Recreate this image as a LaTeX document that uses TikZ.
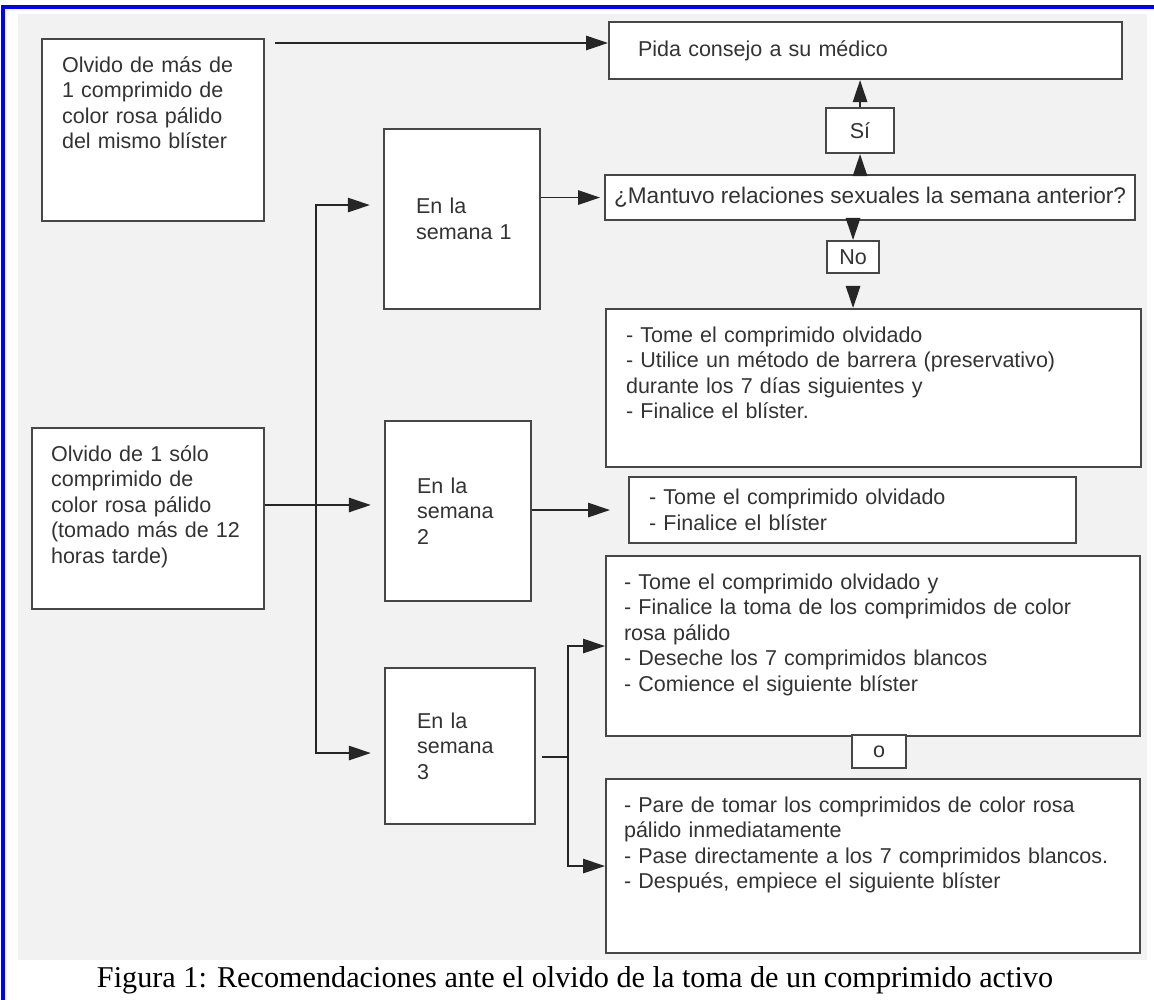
\documentclass[tikz,border=0pt]{standalone}
\usepackage{fontspec}
\setmainfont{Liberation Serif}
\newfontfamily\arialfont{Liberation Sans}
\usepackage{xcolor}
\usetikzlibrary{arrows.meta,calc,positioning}

\definecolor{fondo}{HTML}{F2F2F2}
\definecolor{borde}{HTML}{474747}
\definecolor{texto}{HTML}{333333}
\definecolor{marco}{HTML}{0000FF}

\tikzset{
    caja/.style={draw=borde, line width=1.5pt, fill=white, text=texto, align=left,
        anchor=north west, font=\arialfont\fontsize{15.3}{18.2}\selectfont,
        inner xsep=0.5cm, inner ysep=0cm},
    arriba/.style={text height=0.4cm, inner ysep=0.425cm, text depth=#1},
    chica/.style={caja, align=center, inner xsep=0.1cm},
    flecha/.style={draw=black!85, line width=1.2pt, -{Triangle[length=0.55cm,width=0.36cm]}},
    linea/.style={draw=black!85, line width=1.2pt}
}

\begin{document}
\begin{tikzpicture}
    \useasboundingbox (0,0) rectangle (28.85,25);

    % Frame and background
    \fill [fondo] (0.45,1.0) rectangle (28.675,24.65);
    \draw [marco, line width=2.2pt] (0.075,0) -- (0.075,24.825) -- (28.85,24.825);

    % Starting cases
    \node [caja, arriba=3.3cm, text width=4.55cm, minimum width=5.55cm, minimum height=4.55cm] (olvidoVarios) at (1.025,24.05)
        {Olvido de más de\\1 comprimido de\\color rosa pálido\\del mismo blíster};
    \node [caja, arriba=3.275cm, inner xsep=0.475cm, text width=4.85cm, minimum width=5.8cm, minimum height=4.525cm] (olvidoUno) at (0.775,14.325)
        {Olvido de 1 sólo\\comprimido de\\color rosa pálido\\(tomado más de 12\\horas tarde)};

    % Weeks
    \node [caja, inner xsep=0.8cm, text width=2.3cm, minimum width=3.9cm, minimum height=4.5cm] (sem1) at (9.575,21.8)
        {En la\\semana~1};
    \node [caja, inner xsep=0.8cm, text width=2.05cm, minimum width=3.65cm, minimum height=4.5cm] (sem2) at (9.6,14.5)
        {En la\\semana\\2};
    \node [caja, inner xsep=0.8cm, text width=2.15cm, minimum width=3.75cm, minimum height=3.9cm] (sem3) at (9.6,8.325)
        {En la\\semana\\3};

    % Week 1
    \node [caja, inner xsep=0.725cm, text width=11.375cm, minimum width=12.825cm, minimum height=1.425cm] (medico) at (15.2,24.475)
        {Pida consejo a su médico};
    \node [chica, minimum width=1.7cm, minimum height=1.125cm] (si) at (20.625,22.325) {Sí};
    \node [caja, align=center, inner xsep=0.05cm, minimum width=13.25cm, minimum height=1.125cm,
        font=\arialfont\fontsize{16.1}{18.2}\selectfont] (pregunta) at (15.1,20.65)
        {¿Mantuvo relaciones sexuales la semana anterior?};
    \node [chica, minimum width=1.3cm, minimum height=0.8cm] (no) at (20.65,19.0) {No};
    \node [caja, arriba=2.7cm, text width=12.375cm, minimum width=13.375cm, minimum height=3.95cm] (tome1) at (15.125,17.3)
        {- Tome el comprimido olvidado\\- Utilice un método de barrera (preservativo)\\durante los 7 días siguientes y\\- Finalice el blíster.};

    % Week 2
    \node [caja, text width=10.175cm, minimum width=11.175cm, minimum height=1.65cm] (tome2) at (15.7,13.1)
        {- Tome el comprimido olvidado\\- Finalice el blíster};

    % Week 3
    \node [caja, arriba=3.25cm, inner xsep=0.45cm, text width=12.45cm, minimum width=13.35cm, minimum height=4.5cm] (tome3) at (15.125,11.125)
        {- Tome el comprimido olvidado y\\- Finalice la toma de los comprimidos de color\\rosa pálido\\- Deseche los 7 comprimidos blancos\\- Comience el siguiente blíster};
    \node [chica, minimum width=1.35cm, minimum height=0.825cm] (opcion) at (21.275,6.65) {o};
    \node [caja, arriba=3.1cm, inner xsep=0.45cm, text width=12.45cm, minimum width=13.35cm, minimum height=4.35cm] (pare) at (15.125,5.55)
        {- Pare de tomar los comprimidos de color rosa\\pálido inmediatamente\\- Pase directamente a los 7 comprimidos blancos.\\- Después, empiece el siguiente blíster};

    % Connectors
    \coordinate (a1) at ($(olvidoVarios.north east)+(0.25,-0.125)$);
    \draw [flecha] (a1) -- (a1 -| medico.west);
    \draw [flecha, shorten >=0.1cm] (sem1.east |- pregunta.west) -- (pregunta.west);
    \draw [flecha] (si.south |- pregunta.north) -- (si.south);
    \draw [flecha] (si.north) -- (si.north |- medico.south);
    \draw [flecha] (no.north |- pregunta.south) -- (no.north);
    \draw [flecha, shorten <=0.3cm] (no.south) -- (no.south |- tome1.north);

    \coordinate (rama) at (7.9,12.375);
    \draw [flecha, shorten >=0.33cm] (olvidoUno.east |- rama) -- (sem2.west |- rama);
    \draw [flecha, shorten >=0.33cm] (rama) |- ($(sem1.west)+(0,0.35)$);
    \draw [flecha, shorten >=0.33cm] (rama) |- ($(sem3.west)+(0,-0.175)$);
    \draw [flecha, shorten >=0.45cm] (sem2.east |- tome2.west) -- (tome2.west);

    \coordinate (rama3) at (14.2,6.075);
    \draw [linea] ($(sem3.east |- rama3)+(0.15,0)$) -- (rama3);
    \draw [flecha] (rama3) |- (tome3.west);
    \draw [flecha] (rama3) |- (pare.west);

    % Caption
    \node [font=\fontsize{21.5}{24}\selectfont, anchor=base] (pie) at (14.375,0.3)
        {Figura 1: Recomendaciones ante el olvido de la toma de un comprimido activo};
\end{tikzpicture}
\end{document}
